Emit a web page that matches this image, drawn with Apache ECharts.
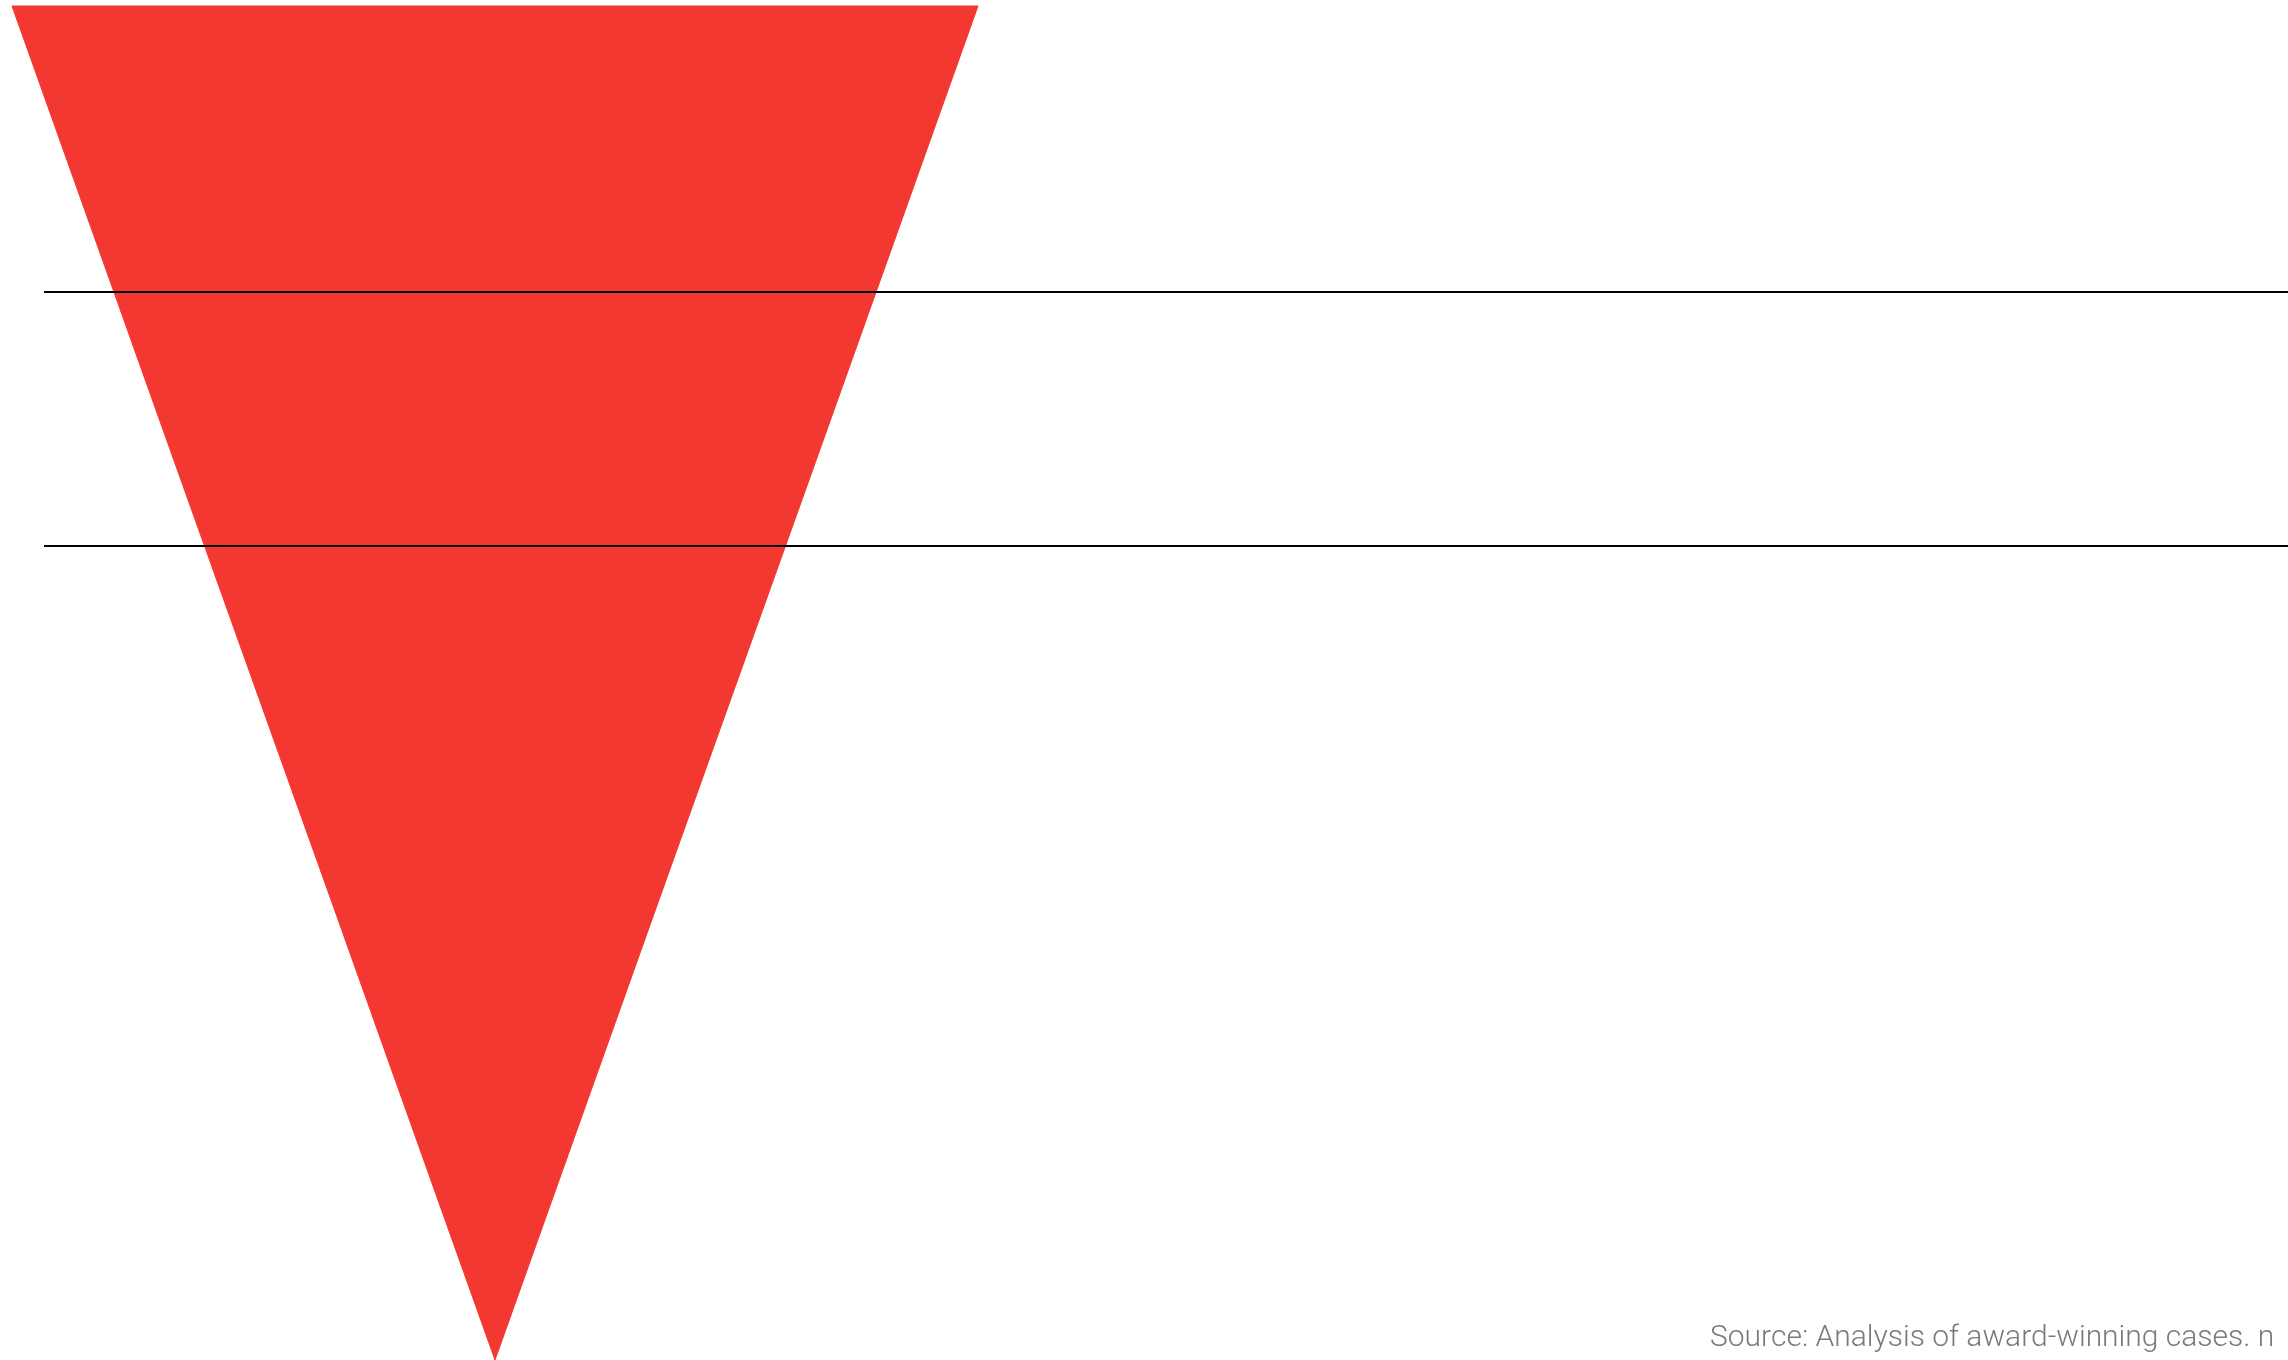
<!DOCTYPE html>
<html>
<head>
<meta charset="utf-8">
<script src="https://cdn.jsdelivr.net/npm/echarts@6/dist/echarts.min.js"></script>
<style>
  html, body { margin: 0; padding: 0; background: #fff; }
  #main { width: 2288px; height: 1360px; }
</style>
</head>
<body>
<div id="main"></div>
<script>
// funnel stages (labels are not shown in the picture)
var stages = ['Stage 1', 'Stage 2', 'Stage 3'];
var stageValues = [100, 66.7, 33.3];
// divider rules drawn across the chart
var dividerLevels = [0, 1];
var sourceNote = 'Source: Analysis of award-winning cases. n';

var dom = document.getElementById('main');
var myChart = echarts.init(dom);

var option = {
    animation: false,
    backgroundColor: '#ffffff',
    title: {
        text: sourceNote,
        left: 1705,
        top: 1318,
        textStyle: {
            fontFamily: 'Roboto',
            fontWeight: 300,
            fontSize: 30,
            color: '#7a7a7a'
        }
    },
    grid: {
        left: 44,
        right: 0,
        top: 292,
        height: 254
    },
    xAxis: {
        type: 'value',
        show: false
    },
    yAxis: {
        type: 'value',
        min: dividerLevels[0],
        max: dividerLevels[dividerLevels.length - 1],
        interval: 1,
        z: 10,
        axisLine: { show: false },
        axisTick: { show: false },
        axisLabel: { show: false },
        splitLine: {
            show: true,
            lineStyle: { color: '#000', width: 2 }
        }
    },
    series: [
        {
            name: 'Funnel',
            type: 'funnel',
            left: 12,
            top: 6,
            width: 966,
            height: 1354,
            min: 0,
            max: 100,
            minSize: '0%',
            maxSize: '100%',
            sort: 'descending',
            gap: 0,
            label: { show: false },
            labelLine: { show: false },
            itemStyle: {
                color: '#f33831',
                borderColor: '#f33831',
                borderWidth: 1
            },
            emphasis: { disabled: true },
            data: stages.map(function (name, i) {
                return { name: name, value: stageValues[i] };
            })
        }
    ]
};

if (option && typeof option === 'object') {
    myChart.setOption(option);
}
</script>
</body>
</html>
